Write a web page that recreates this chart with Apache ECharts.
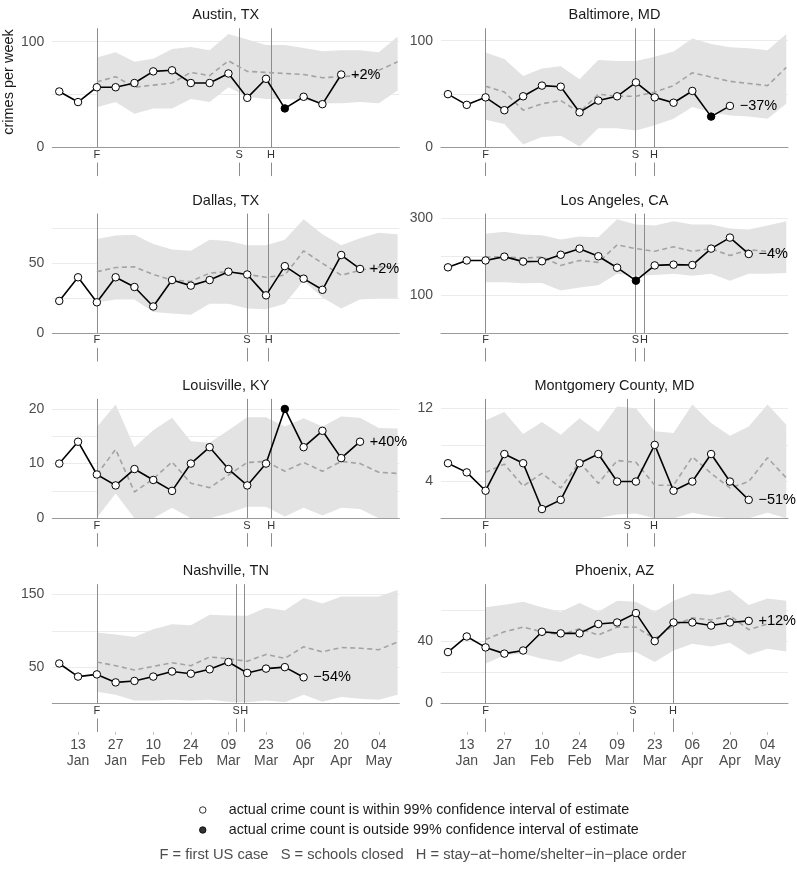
<!DOCTYPE html>
<html><head><meta charset="utf-8">
<script src="https://cdn.jsdelivr.net/npm/echarts@6/dist/echarts.min.js"></script>
<style>html,body{margin:0;padding:0;background:#fff}#c{width:797px;height:871px}</style>
</head><body><div id="c"></div>
<script>
// week index 0 = 06 Jan 2020 (weekly points); estimates start at week 2 (20 Jan)
const cities = ['Austin, TX','Baltimore, MD','Dallas, TX','Los Angeles, CA','Louisville, KY','Montgomery County, MD','Nashville, TN','Phoenix, AZ'];
const weekTickValues = [1,3,5,7,9,11,13,15,17];
const weekTickLabels = ['13\nJan','27\nJan','10\nFeb','24\nFeb','09\nMar','23\nMar','06\nApr','20\nApr','04\nMay'];
const estimateStartWeek = 2;
const eventF = 2;
const eventS = [9.57, 9.97, 9.98, 9.97, 9.98, 9.54, 9.41, 9.84];
const eventH = [11.26, 10.96, 11.14, 10.43, 11.28, 10.96, 9.84, 11.97];
const changeLabels = ['+2%','\u221237%','+2%','\u22124%','+40%','\u221251%','\u221254%','+12%'];

const actualAustin = [53,43,57,57,61,72,73,61,61,70,47,65,37,48,41,69];
const estAustin = [62,67,57,59,61,71,68,82,72,71,70,69,66,67,68,73,81];
const upAustin  = [85,90,81,84,93,95,92,107.3,102,97,97,94,91,92,92,90,105];
const loAustin  = [38,43,32,37,37,46,43,57,48,46,46,45,42,42,43,42,54];
const outAustin = [12];

const actualBaltimore = [50,40,47,35,48,58,57,33,44,48,61,47,42,53,29,39];
const estBaltimore = [57.5,52,35,41,44,33,50,48,48,52,58,70,66,62,60,58,75];
const upBaltimore  = [89,83,67,74,76,64,82,81,81,85,90,102,97,94,93,91,106.3];
const loBaltimore  = [26,22,3,10,11,1,18,18,16,21,27,38,33,30,29,27,41];
const outBaltimore = [14];

const actualDallas = [23,40,22,40,33,19,38,34,38,44,42,27,48,39,31,56,46];
const estDallas = [44,47,47.5,42,38,37,43,44,42,40,41.5,59,50,41.5,45,47.5,47.5];
const upDallas  = [67.5,70,70.5,64,60,59,67,66,63,63,67,81.7,71,63,68,72,71];
const loDallas  = [22,24,24,15,14,13,21,21,17.5,17,21,37.5,25.5,17.5,24,25,25];
const outDallas = [];

const actualLA = [172,190,190,200,187,188,205,221,201,171,137,177,179,178,221,250,207];
const estLA = [199,200,196,199,177,190,185,231,221,214,226,214,221,203,218,214,214];
const upLA  = [260,265,258,256,245,253,251,298,284,282,293,284,284,274,271,282,293];
const loLA  = [133,133,130,131,111,119,125,155,149,152,155,150,155,137,155,155,157];
const outLA = [10];

const actualLouisville = [10,14,8,6,9,7,5,10,13,9,6,10,20,13,16,11,14];
const estLouisville = [8,12.6,4.8,7.2,10.3,6.4,5.6,7.9,10.2,10.4,8.6,10.2,8.6,10.4,10,8.4,8.2];
const upLouisville  = [16.7,20.8,13,16.1,18.4,14.1,13.8,16.1,18.5,18.5,16.8,18.3,16.8,18.6,18.4,16.5,16.4];
const loLouisville  = [0.1,4.5,0,0,1.9,0,0,0.9,2.1,2.1,0.3,1.9,0.5,1.9,1.7,0,0];
const outLouisville = [12];

const actualMontgomery = [6,5,3,7,6,1,2,6,7,4,4,8,3,4,7,4,2];
const estMontgomery = [5,5.9,3.5,4.9,3.3,6.1,3.8,6.3,6.1,3.6,3.6,6.7,4.9,3.3,4,6.6,4.4];
const upMontgomery  = [10.7,11.6,9.2,10.5,9.1,10.9,9.4,12.2,12,9.5,9.3,12.4,10.4,9,10,12.4,10.2];
const loMontgomery  = [0,0,0,0,0,0,0,0.4,0.5,0,0,0.6,0.2,0,0,0.6,0];
const outMontgomery = [];

const actualNashville = [55,37,40,29,31,37,44,41,47,57,42,48,50,36];
const estNashville = [57,52,46,51,56,52,64,61.5,58,67.5,62,78,71,77,76,74,84.6];
const upNashville  = [97.5,95,91.5,102,109,107.6,122,121,120.5,131.6,128,145,137.6,147,147,147,156.2];
const loNashville  = [16,12,4,4,5,4,5,2.5,1.6,4,1.6,12,2.5,9,6.5,5.3,12];
const outNashville = [];

const actualPhoenix = [33,43,36,32,34,46,45,45,51,52,58,40,52,52,50,52,53];
const estPhoenix = [41,46,49,46,44,48,44,49,49,41.5,50,55,53.6,56.4,47.4,51,50.6];
const upPhoenix  = [61.7,63.4,65.3,61.7,58.9,64.5,58.9,66,65.3,58.9,66,70.6,69.6,72.9,63.2,67.4,66];
const loPhoenix  = [25.5,30.9,31.9,28.7,26.6,31.9,28.7,32.3,33,26.6,34,38.3,36.6,38.9,31.3,35.1,33.4];
const outPhoenix = [];

const yLabelBreaks = [[0,100],[0,100],[0,50],[100,300],[0,10,20],[4,12],[50,150],[0,40]];
const yGridBreaks  = [[0,50,100],[0,50,100],[0,25,50,75],[0,100,200,300],[0,5,10,15,20],[0,4,8,12],[0,50,100,150],[0,20,40,60]];

const actuals = [actualAustin,actualBaltimore,actualDallas,actualLA,actualLouisville,actualMontgomery,actualNashville,actualPhoenix];
const ests = [estAustin,estBaltimore,estDallas,estLA,estLouisville,estMontgomery,estNashville,estPhoenix];
const ups = [upAustin,upBaltimore,upDallas,upLA,upLouisville,upMontgomery,upNashville,upPhoenix];
const los = [loAustin,loBaltimore,loDallas,loLA,loLouisville,loMontgomery,loNashville,loPhoenix];
const outs = [outAustin,outBaltimore,outDallas,outLA,outLouisville,outMontgomery,outNashville,outPhoenix];

const legendWithin = 'actual crime count is within 99% confidence interval of estimate';
const legendOutside = 'actual crime count is outside 99% confidence interval of estimate';
const footnote = 'F = first US case   S = schools closed   H = stay\u2212at\u2212home/shelter\u2212in\u2212place order';

// ---- layout ----
const FONT = '"Liberation Sans", Arial, Helvetica, sans-serif';
const colLeft = [52.3, 441];
const gridW = 347, gridH = 119.3;
const rowTop = r => 28.3 + r * 185.3;
const xMin = -0.37, xMax = 18.09;

const grids = [], xAxes = [], yAxes = [], series = [], titles = [];
cities.forEach((city, i) => {
  const r = Math.floor(i / 2), c = i % 2;
  const top = rowTop(r), left = colLeft[c];
  const bottomRow = r === 3;
  const mg = grids.length;
  grids.push({left: left, top: top, width: gridW, height: gridH, outerBoundsMode: 'none', containLabel: false});
  grids.push({left: left, top: top + gridH + 15, width: gridW, height: 13.5, outerBoundsMode: 'none', containLabel: false});
  titles.push({text: city, left: left + gridW / 2, textAlign: 'center', top: top - 21.5, padding: 0,
    textStyle: {fontFamily: FONT, fontSize: 14.5, fontWeight: 'normal', color: '#1a1a1a', lineHeight: 17}});
  const yMax = 1.05 * Math.max(...ups[i], ...actuals[i]);
  xAxes.push({gridIndex: mg, type: 'value', min: xMin, max: xMax,
    axisLine: {show: true, lineStyle: {color: '#9a9a9a', width: 1}},
    axisTick: {show: false}, axisLabel: {show: false}, splitLine: {show: false}});
  xAxes.push({gridIndex: mg + 1, type: 'value', min: xMin, max: xMax,
    axisLine: {show: false},
    axisTick: {show: bottomRow, customValues: weekTickValues, length: 3, lineStyle: {color: '#c4c4c4'}},
    axisLabel: {show: bottomRow, customValues: weekTickValues, margin: 5.5,
      formatter: v => { const k = weekTickValues.indexOf(v); return k >= 0 ? weekTickLabels[k] : ''; },
      fontFamily: FONT, fontSize: 14, lineHeight: 16, color: '#4d4d4d'},
    splitLine: {show: false}});
  yAxes.push({gridIndex: mg, type: 'value', min: 0, max: yMax,
    axisLine: {show: false},
    axisTick: {show: false, customValues: yGridBreaks[i]},
    axisLabel: {customValues: yLabelBreaks[i], margin: 8, fontFamily: FONT, fontSize: 14, color: '#4d4d4d'},
    splitLine: {show: true, lineStyle: {color: '#ebebeb', width: 1}}});
  yAxes.push({gridIndex: mg + 1, type: 'value', min: 0, max: 1, show: false});

  const bandRows = ups[i].map((v, k) => [k + estimateStartWeek, los[i][k], v]);
  const est = ests[i].map((v, k) => [k + estimateStartWeek, v]);
  const act = actuals[i].map((v, k) => {
    const item = {value: [k, v]};
    if (outs[i].includes(k)) item.itemStyle = {color: '#000', borderColor: '#000'};
    if (k === actuals[i].length - 1) item.label = {show: true, position: 'right', distance: 5.5,
      formatter: changeLabels[i], fontFamily: FONT, fontSize: 14.5, color: '#000'};
    return item;
  });
  const axisIdx = {xAxisIndex: mg, yAxisIndex: mg};
  // confidence band: polygon through upper values then back along lower values
  series.push(Object.assign({type: 'custom', data: bandRows, silent: true, z: 1, clip: true,
    encode: {x: 0, y: [1, 2]},
    renderItem: (params, api) => {
      if (params.dataIndex !== 0) return null;
      const pts = [];
      bandRows.forEach(row => pts.push(api.coord([row[0], row[2]])));
      for (let k = bandRows.length - 1; k >= 0; k--) pts.push(api.coord([bandRows[k][0], bandRows[k][1]]));
      return {type: 'polygon', shape: {points: pts}, style: {fill: '#e3e3e3'}};
    }}, axisIdx));
  const evLabel = {show: true, position: 'start', distance: 1, formatter: p => p.name,
    fontFamily: FONT, fontSize: 11, color: '#333', backgroundColor: '#fff', padding: [1, 1, 0, 1]};
  series.push(Object.assign({type: 'line', data: [], silent: true, z: 2,
    markLine: {silent: true, symbol: 'none', z: 2, animation: false,
      lineStyle: {color: '#8c8c8c', width: 1, type: 'solid'},
      label: evLabel, emphasis: {disabled: true},
      data: [{xAxis: eventF, name: 'F'}, {xAxis: eventS[i], name: 'S'}, {xAxis: eventH[i], name: 'H'}]}}, axisIdx));
  series.push(Object.assign({type: 'line', data: est, symbol: 'none', silent: true, z: 3,
    lineStyle: {color: '#a3a3a3', width: 1.6, type: [5, 3.5]}}, axisIdx));
  series.push(Object.assign({type: 'line', data: act, symbol: 'circle', symbolSize: 7.5, silent: true, z: 4,
    itemStyle: {color: '#fff', borderColor: '#000', borderWidth: 1},
    lineStyle: {color: '#000', width: 1.6}}, axisIdx));
  series.push({type: 'line', data: [], silent: true, z: 2, xAxisIndex: mg + 1, yAxisIndex: mg + 1,
    markLine: {silent: true, symbol: 'none', z: 2, animation: false, label: {show: false},
      lineStyle: {color: '#8c8c8c', width: 1, type: 'solid'}, emphasis: {disabled: true},
      data: [{xAxis: eventF}, {xAxis: eventS[i]}, {xAxis: eventH[i]}]}});
});
// legend carrier series
series.push({type: 'scatter', name: legendWithin, data: [], xAxisIndex: 0, yAxisIndex: 0,
  itemStyle: {color: '#fff', borderColor: '#000', borderWidth: 1}});
series.push({type: 'scatter', name: legendOutside, data: [], xAxisIndex: 0, yAxisIndex: 0,
  itemStyle: {color: '#000', borderColor: '#000', borderWidth: 1}});

const chart = echarts.init(document.getElementById('c'), null, {renderer: 'canvas'});
chart.setOption({
  animation: false,
  backgroundColor: '#fff',
  title: titles,
  grid: grids, xAxis: xAxes, yAxis: yAxes, series: series,
  legend: {orient: 'vertical', left: 194, top: 797, itemWidth: 42, itemHeight: 6.5, itemGap: 4,
    selectedMode: false,
    textStyle: {fontFamily: FONT, fontSize: 14.3, color: '#1a1a1a', lineHeight: 16},
    data: [
      {name: legendWithin, icon: 'circle', itemStyle: {color: '#fff', borderColor: '#000', borderWidth: 1}},
      {name: legendOutside, icon: 'circle', itemStyle: {color: '#000', borderColor: '#000', borderWidth: 1}}
    ]},
  graphic: [
    {type: 'text', x: 9, y: 82, rotation: Math.PI / 2, silent: true,
      style: {text: 'crimes per week', fontFamily: FONT, fontSize: 14.5, fill: '#1a1a1a', align: 'center', verticalAlign: 'middle'}},
    {type: 'text', x: 423, y: 855, silent: true,
      style: {text: footnote, fontFamily: FONT, fontSize: 14.7, fill: '#4d4d4d', align: 'center', verticalAlign: 'middle'}}
  ]
});
</script></body></html>
